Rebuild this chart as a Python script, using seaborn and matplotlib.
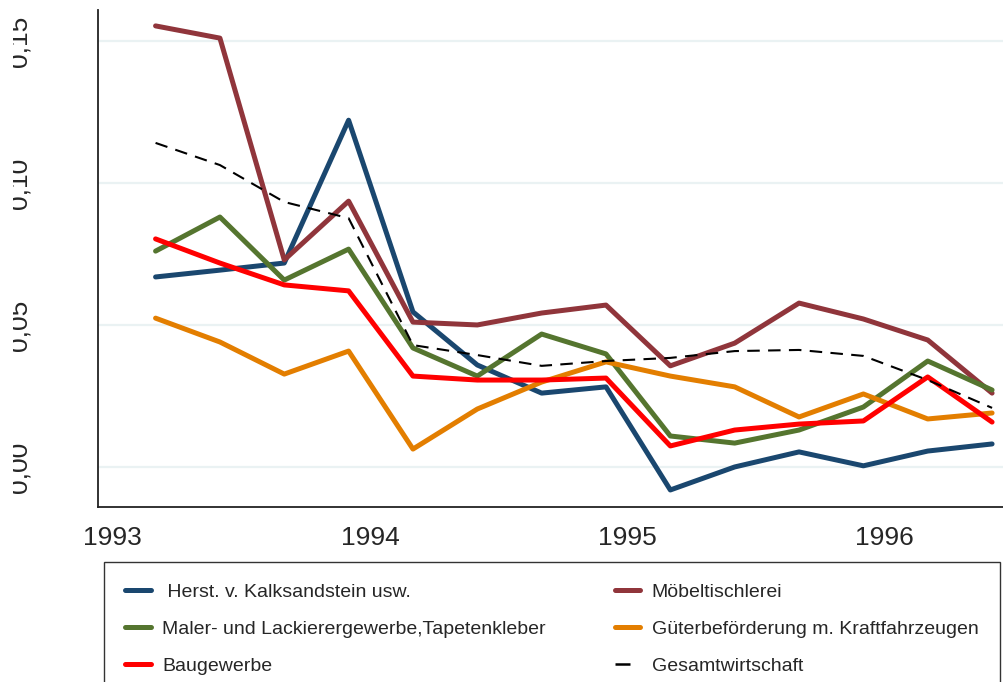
import numpy as np
import pandas as pd
import matplotlib
matplotlib.use("Agg")
import matplotlib.pyplot as plt
from matplotlib.patches import Rectangle
import seaborn as sns

# quarterly observations (March, June, September, December)
zeit = [1993 + 2 / 12 + 0.25 * k for k in range(14)]

kalksandstein = [0.0669, 0.0693, 0.0718, 0.1221, 0.0546, 0.0359, 0.0260,
                 0.0282, -0.0081, 0.0000, 0.0053, 0.0004, 0.0056, 0.0081]
moebel = [0.1553, 0.1510, 0.0729, 0.0936, 0.0510, 0.0500, 0.0542,
          0.0570, 0.0356, 0.0436, 0.0577, 0.0521, 0.0447, 0.0260]
maler = [0.0760, 0.0880, 0.0658, 0.0767, 0.0419, 0.0320, 0.0468,
         0.0398, 0.0109, 0.0084, 0.0130, 0.0211, 0.0373, 0.0271]
gueter = [0.0524, 0.0440, 0.0327, 0.0408, 0.0063, 0.0204, 0.0299,
          0.0370, 0.0320, 0.0282, 0.0176, 0.0257, 0.0169, 0.0190]
bau = [0.0803, 0.0718, 0.0641, 0.0620, 0.0320, 0.0306, 0.0306,
       0.0313, 0.0074, 0.0130, 0.0151, 0.0162, 0.0317, 0.0158]
gesamt = [0.1141, 0.1063, 0.0933, 0.0876, 0.0429, 0.0394, 0.0356,
          0.0373, 0.0384, 0.0408, 0.0412, 0.0391, 0.0306, 0.0208]

namen = [" Herst. v. Kalksandstein usw.", "Möbeltischlerei",
         "Maler- und Lackierergewerbe,Tapetenkleber",
         "Güterbeförderung m. Kraftfahrzeugen", "Baugewerbe", "Gesamtwirtschaft"]
reihen = [kalksandstein, moebel, maler, gueter, bau, gesamt]
farben = ["#1a476f", "#90353b", "#55752f", "#e37e00", "#ff0000", "#000000"]

x_ticks = [1993, 1994, 1995, 1996]
y_ticks = [0.0, 0.05, 0.10, 0.15]
y_labels = ["0,00", "0,05", "0,10", "0,15"]

sns.set_style("white")
plt.rcParams["font.family"] = ["Liberation Sans", "DejaVu Sans"]

fig = plt.figure(figsize=(10.04, 6.82), dpi=100)
ax = fig.add_axes([98 / 1004, 1 - 507 / 682, 906 / 1004, 497 / 682])

for y in y_ticks:
    ax.axhline(y, color="#eaf2f3", lw=1.6, zorder=0)

for name, werte, farbe in zip(namen, reihen, farben):
    df = pd.DataFrame({"zeit": zeit, "wert": werte})
    if name == "Gesamtwirtschaft":
        sns.lineplot(data=df, x="zeit", y="wert", ax=ax, color=farbe, lw=1.5,
                     label=name, dashes=False, linestyle=(0, (6, 4)))
    else:
        sns.lineplot(data=df, x="zeit", y="wert", ax=ax, color=farbe, lw=3.6,
                     label=name)

ax.set_xlim(1992.943, 1996.463)
ax.set_ylim(-0.0141, 0.1609)
ax.set_xticks(x_ticks)
ax.set_xticklabels([str(t) for t in x_ticks], fontsize=19)
ax.set_yticks(y_ticks)
ax.set_yticklabels(y_labels, fontsize=19, rotation=90, va="center")
ax.set_xlabel("")
ax.set_ylabel("")
ax.tick_params(axis="x", length=7, width=1, color="#333333", pad=7)
ax.tick_params(axis="y", length=10, width=1.3, color="#444444", pad=38)
for s in ["top", "right"]:
    ax.spines[s].set_visible(False)
for s in ["left", "bottom"]:
    ax.spines[s].set_color("#222222")
    ax.spines[s].set_linewidth(1.3)

handles, labels = ax.get_legend_handles_labels()
ax.get_legend().remove()
order = [0, 2, 4, 1, 3, 5]
leg = fig.legend([handles[i] for i in order], [labels[i] for i in order],
                 loc="upper left", bbox_to_anchor=(104 / 1004, 1 - 562 / 682, 896 / 1004, 0),
                 mode="expand", ncol=2, borderaxespad=0, fontsize=14,
                 handlelength=1.3, handletextpad=0.6, labelspacing=1.0,
                 borderpad=1.1, fancybox=False, frameon=True)
leg.get_frame().set_edgecolor("black")
leg.get_frame().set_linewidth(1.0)
for h in leg.get_lines():
    h.set_linewidth(3.6 if h.get_color() != "#000000" else 1.8)

# the y tick labels of the original are cut off at the left margin
fig.add_artist(Rectangle((0, 0), 13 / 1004, 1, transform=fig.transFigure,
                         facecolor="white", edgecolor="none", zorder=10))

fig.savefig("out.png", dpi=100)
